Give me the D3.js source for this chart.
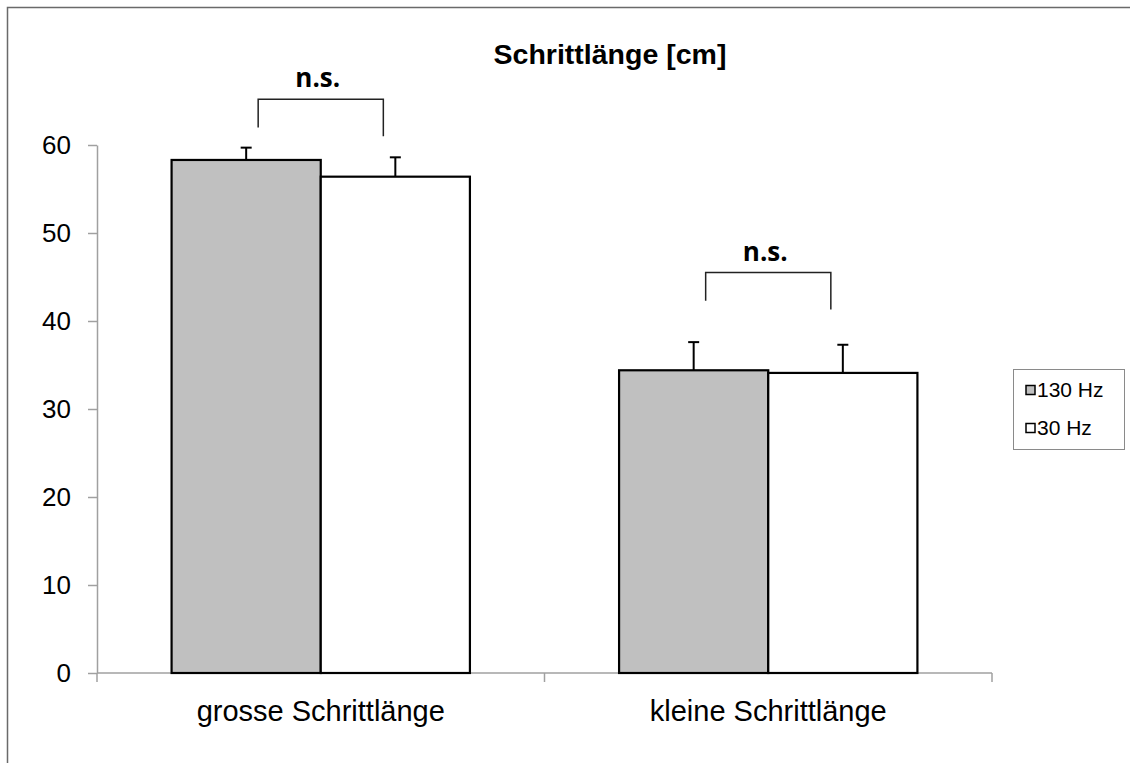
<!DOCTYPE html>
<html>
<head>
<meta charset="utf-8">
<script src="https://cdn.jsdelivr.net/npm/d3@7"></script>
<style>
  body { margin: 0; background: #fff; overflow: hidden; }
  text { font-family: "Liberation Sans", Arial, sans-serif; fill: #000; }
</style>
</head>
<body>
<div id="chart"></div>
<script>
// Set up SVG params
var svgWdt = 1130;
var svgHgt = 763;

// Chart data
var categories = ["grosse Schrittlänge", "kleine Schrittlänge"];
var seriesNames = ["130 Hz", "30 Hz"];
var seriesColors = ["#c0c0c0", "#ffffff"];
var values130 = [58.3, 34.4];
var values30 = [56.4, 34.1];
var errors130 = [1.4, 3.2];
var errors30 = [2.2, 3.2];
var yTicks = [0, 10, 20, 30, 40, 50, 60];

// significance brackets (in y units)
var sigLabels = ["n.s.", "n.s."];
var bracketTop = [65.2, 45.5];
var bracketLeftEnd = [62.0, 42.3];
var bracketRightEnd = [61.0, 41.3];

// Plot area
var plot = { left: 97, right: 992, top: 145, bottom: 673 };

var svg = d3.select("#chart").append("svg")
    .attr("width", svgWdt)
    .attr("height", svgHgt)
    .style("display", "block");

// Outer frame (runs off the right and bottom edges)
svg.append("path")
    .attr("d", `M7.5,${svgHgt}V7.5H${svgWdt}`)
    .attr("fill", "none")
    .attr("stroke", "#6a6a6a")
    .attr("stroke-width", 1.5);

// Scales
var xScale = d3.scaleBand().domain(categories)
    .range([plot.left, plot.right])
    .paddingInner(0).paddingOuter(0);

var xSub = d3.scaleBand().domain(seriesNames)
    .range([0, xScale.bandwidth()])
    .paddingInner(0).paddingOuter(0.5);

var yScale = d3.scaleLinear().domain([0, 60])
    .range([plot.bottom, plot.top]);

// Y axis
var leftAx = d3.axisLeft(yScale)
    .tickValues(yTicks)
    .tickSize(9)
    .tickSizeOuter(0)
    .tickPadding(17);

var yAxis = svg.append("g")
    .attr("transform", `translate(${plot.left}, 0)`)
    .call(leftAx);
yAxis.selectAll("path, line").attr("stroke", "#a0a0a0").attr("stroke-width", 1.5);
yAxis.selectAll("text")
    .style("font-family", "'Liberation Sans', Arial, sans-serif")
    .style("font-size", "26px")
    .attr("fill", "#000");

// X axis line and boundary ticks
var xAxis = svg.append("g");
xAxis.append("line")
    .attr("x1", plot.left).attr("x2", plot.right)
    .attr("y1", yScale(0)).attr("y2", yScale(0))
    .attr("stroke", "#a0a0a0").attr("stroke-width", 1.5);
xAxis.selectAll(".btick").data(d3.range(categories.length + 1))
    .enter()
    .append("line")
        .attr("class", "btick")
        .attr("x1", i => plot.left + i * xScale.step())
        .attr("x2", i => plot.left + i * xScale.step())
        .attr("y1", yScale(0))
        .attr("y2", yScale(0) + 9)
        .attr("stroke", "#a0a0a0").attr("stroke-width", 1.5);

// Category labels
svg.selectAll(".catLbl").data(categories)
    .enter()
    .append("text")
        .attr("class", "catLbl")
        .attr("x", d => xScale(d) + xScale.bandwidth() / 2)
        .attr("y", 721)
        .attr("text-anchor", "middle")
        .style("font-size", "29px")
        .text(d => d);

// Bars
var rows = [];
categories.forEach((c, i) => {
    rows.push({ cat: c, ser: seriesNames[0], val: values130[i], err: errors130[i], col: seriesColors[0] });
    rows.push({ cat: c, ser: seriesNames[1], val: values30[i], err: errors30[i], col: seriesColors[1] });
});

// Error bars (upper only)
var errGrp = svg.append("g");
rows.forEach(d => {
    var cx = xScale(d.cat) + xSub(d.ser) + xSub.bandwidth() / 2;
    errGrp.append("line")
        .attr("x1", cx).attr("x2", cx)
        .attr("y1", yScale(d.val)).attr("y2", yScale(d.val + d.err))
        .attr("stroke", "#000").attr("stroke-width", 2);
    errGrp.append("line")
        .attr("x1", cx - 5.5).attr("x2", cx + 5.5)
        .attr("y1", yScale(d.val + d.err)).attr("y2", yScale(d.val + d.err))
        .attr("stroke", "#000").attr("stroke-width", 2);
});

svg.selectAll(".bar").data(rows)
    .enter()
    .append("rect")
        .attr("class", "bar")
        .attr("x", d => xScale(d.cat) + xSub(d.ser))
        .attr("y", d => yScale(d.val))
        .attr("width", xSub.bandwidth())
        .attr("height", d => yScale(0) - yScale(d.val))
        .attr("fill", d => d.col)
        .attr("stroke", "#000")
        .attr("stroke-width", 2.2);

// Significance brackets
categories.forEach((c, i) => {
    var xl = xScale(c) + xSub(seriesNames[0]) + xSub.bandwidth() / 2 + 12;
    var xr = xScale(c) + xSub(seriesNames[1]) + xSub.bandwidth() / 2 - 12;
    svg.append("path")
        .attr("d", `M${xl},${yScale(bracketLeftEnd[i])}V${yScale(bracketTop[i])}H${xr}V${yScale(bracketRightEnd[i])}`)
        .attr("fill", "none")
        .attr("stroke", "#222")
        .attr("stroke-width", 1.5);
    svg.append("text")
        .attr("x", (xl + xr) / 2 - 3)
        .attr("y", yScale(bracketTop[i]) - 12)
        .attr("text-anchor", "middle")
        .style("font-family", "'Open Sans', sans-serif")
        .style("font-weight", "bold")
        .style("font-size", "26px")
        .text(sigLabels[i]);
});

// Title
svg.append("text")
    .attr("x", 610)
    .attr("y", 64)
    .attr("text-anchor", "middle")
    .style("font-weight", "bold")
    .style("font-size", "28.5px")
    .text("Schrittlänge [cm]");

// Legend
var legend = svg.append("g");
legend.append("rect")
    .attr("x", 1013.5).attr("y", 369.5)
    .attr("width", 111).attr("height", 80)
    .attr("fill", "#fff")
    .attr("stroke", "#8a8a8a")
    .attr("stroke-width", 1);
seriesNames.forEach((s, i) => {
    var cy = 390 + i * 38;
    legend.append("rect")
        .attr("x", 1026).attr("y", cy - 4.5)
        .attr("width", 9).attr("height", 9)
        .attr("fill", seriesColors[i])
        .attr("stroke", "#000")
        .attr("stroke-width", 1.5);
    legend.append("text")
        .attr("x", 1037)
        .attr("y", cy + 7)
        .style("font-size", "21px")
        .text(s);
});
</script>
</body>
</html>
